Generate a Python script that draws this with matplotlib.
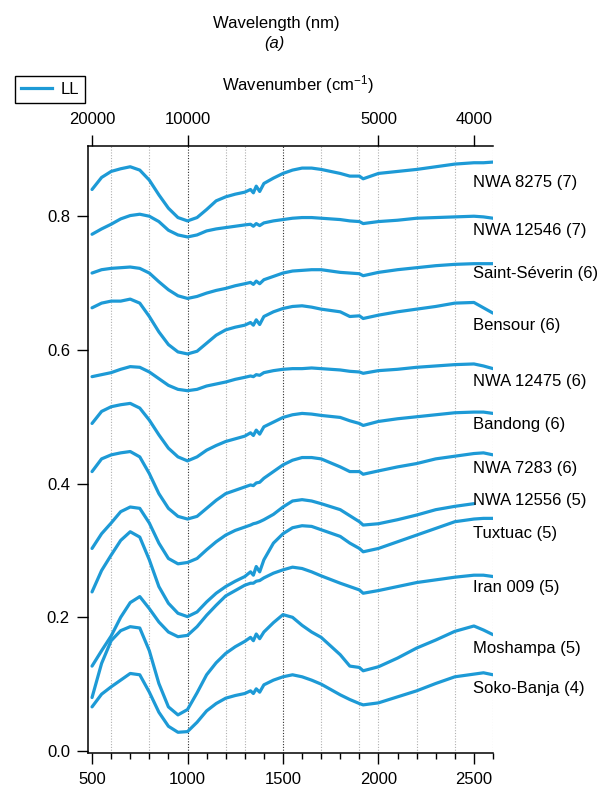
# Reflectance spectra of LL chondrites, stacked, with wavenumber axis on top

import numpy as np
import matplotlib.pyplot as plt
from matplotlib.lines import Line2D

plt.rcParams['font.family'] = ['Liberation Sans', 'DejaVu Sans']
plt.rcParams['mathtext.fontset'] = 'custom'
plt.rcParams['mathtext.rm'] = 'Liberation Sans'
plt.rcParams['mathtext.it'] = 'Liberation Sans:italic'

# wavelength grid (nm) shared by all spectra
wl = [500, 550, 600, 650, 700, 750, 800, 850, 900, 950, 1000, 1050, 1100, 1150,
      1200, 1250, 1300, 1330, 1345, 1360, 1378, 1400, 1450, 1500, 1550, 1600,
      1650, 1700, 1800, 1850, 1900, 1920, 2000, 2100, 2200, 2300, 2400, 2500,
      2550, 2600]

nwa_8275 = [0.840, 0.858, 0.867, 0.871, 0.874, 0.869, 0.854, 0.832, 0.812, 0.798,
            0.793, 0.798, 0.810, 0.823, 0.829, 0.833, 0.836, 0.840, 0.835, 0.845,
            0.837, 0.849, 0.857, 0.864, 0.869, 0.872, 0.872, 0.870, 0.864, 0.860,
            0.860, 0.856, 0.864, 0.867, 0.870, 0.874, 0.878, 0.880, 0.880, 0.881]
nwa_12546 = [0.773, 0.781, 0.788, 0.796, 0.801, 0.803, 0.800, 0.792, 0.779, 0.772,
             0.769, 0.772, 0.778, 0.781, 0.783, 0.785, 0.787, 0.788, 0.785, 0.789,
             0.786, 0.790, 0.793, 0.795, 0.797, 0.798, 0.798, 0.797, 0.795, 0.793,
             0.792, 0.789, 0.792, 0.794, 0.797, 0.798, 0.799, 0.800, 0.799, 0.797]
saint_severin = [0.715, 0.720, 0.722, 0.723, 0.724, 0.722, 0.715, 0.702, 0.690, 0.681,
                 0.677, 0.680, 0.685, 0.689, 0.692, 0.696, 0.699, 0.701, 0.698, 0.703,
                 0.699, 0.705, 0.710, 0.715, 0.718, 0.719, 0.720, 0.720, 0.716, 0.715,
                 0.714, 0.711, 0.716, 0.720, 0.723, 0.726, 0.728, 0.729, 0.729, 0.729]
bensour = [0.663, 0.670, 0.673, 0.673, 0.676, 0.670, 0.650, 0.627, 0.608, 0.597,
           0.594, 0.598, 0.610, 0.622, 0.630, 0.634, 0.637, 0.641, 0.637, 0.645,
           0.638, 0.650, 0.657, 0.662, 0.665, 0.666, 0.664, 0.661, 0.657, 0.650,
           0.651, 0.647, 0.652, 0.657, 0.661, 0.665, 0.670, 0.671, 0.663, 0.655]
nwa_12475 = [0.560, 0.563, 0.566, 0.571, 0.575, 0.574, 0.567, 0.557, 0.547, 0.541,
             0.539, 0.541, 0.546, 0.549, 0.552, 0.556, 0.559, 0.561, 0.560, 0.563,
             0.562, 0.566, 0.569, 0.571, 0.572, 0.572, 0.573, 0.572, 0.570, 0.568,
             0.567, 0.565, 0.569, 0.571, 0.574, 0.576, 0.578, 0.579, 0.576, 0.572]
bandong = [0.490, 0.508, 0.515, 0.518, 0.520, 0.513, 0.495, 0.473, 0.453, 0.440,
           0.434, 0.440, 0.450, 0.457, 0.463, 0.467, 0.471, 0.476, 0.472, 0.480,
           0.474, 0.485, 0.492, 0.499, 0.503, 0.505, 0.504, 0.502, 0.499, 0.494,
           0.490, 0.487, 0.493, 0.497, 0.500, 0.503, 0.506, 0.507, 0.507, 0.505]
nwa_7283 = [0.418, 0.437, 0.443, 0.446, 0.448, 0.440, 0.415, 0.385, 0.363, 0.351,
            0.347, 0.351, 0.363, 0.375, 0.385, 0.390, 0.395, 0.398, 0.397, 0.401,
            0.402, 0.408, 0.418, 0.428, 0.435, 0.439, 0.439, 0.437, 0.425, 0.418,
            0.418, 0.414, 0.419, 0.425, 0.430, 0.437, 0.441, 0.445, 0.446, 0.443]
nwa_12556 = [0.303, 0.325, 0.341, 0.358, 0.365, 0.363, 0.341, 0.311, 0.288, 0.280,
             0.282, 0.288, 0.301, 0.313, 0.323, 0.330, 0.335, 0.338, 0.340, 0.341,
             0.343, 0.346, 0.354, 0.365, 0.374, 0.376, 0.374, 0.370, 0.361, 0.352,
             0.343, 0.338, 0.340, 0.346, 0.353, 0.361, 0.366, 0.370, np.nan, np.nan]
tuxtuac = [0.238, 0.270, 0.293, 0.315, 0.328, 0.320, 0.286, 0.246, 0.221, 0.206,
           0.201, 0.208, 0.223, 0.236, 0.246, 0.254, 0.261, 0.268, 0.263, 0.276,
           0.268, 0.286, 0.311, 0.325, 0.334, 0.337, 0.336, 0.331, 0.321, 0.311,
           0.303, 0.298, 0.303, 0.313, 0.323, 0.333, 0.343, 0.347, 0.348, 0.348]
iran_009 = [0.127, 0.150, 0.172, 0.200, 0.222, 0.231, 0.213, 0.193, 0.178, 0.171,
            0.173, 0.186, 0.203, 0.218, 0.232, 0.240, 0.248, 0.251, 0.251, 0.254,
            0.255, 0.259, 0.266, 0.271, 0.275, 0.273, 0.268, 0.262, 0.251, 0.246,
            0.241, 0.236, 0.240, 0.246, 0.252, 0.256, 0.260, 0.263, 0.263, 0.261]
moshampa = [0.080, 0.131, 0.165, 0.180, 0.186, 0.184, 0.150, 0.101, 0.066, 0.054,
            0.062, 0.087, 0.114, 0.132, 0.146, 0.156, 0.164, 0.170, 0.165, 0.175,
            0.168, 0.178, 0.192, 0.204, 0.200, 0.188, 0.178, 0.170, 0.144, 0.127,
            0.125, 0.120, 0.126, 0.139, 0.154, 0.166, 0.179, 0.187, 0.181, 0.174]
soko_banja = [0.066, 0.085, 0.096, 0.106, 0.116, 0.114, 0.088, 0.058, 0.037, 0.028,
              0.029, 0.043, 0.060, 0.071, 0.079, 0.083, 0.086, 0.090, 0.086, 0.093,
              0.088, 0.099, 0.106, 0.111, 0.114, 0.111, 0.106, 0.100, 0.084, 0.077,
              0.071, 0.069, 0.072, 0.081, 0.090, 0.101, 0.111, 0.115, 0.117, 0.114]

names = ['NWA 8275 (7)', 'NWA 12546 (7)', 'Saint-Séverin (6)', 'Bensour (6)',
         'NWA 12475 (6)', 'Bandong (6)', 'NWA 7283 (6)', 'NWA 12556 (5)',
         'Tuxtuac (5)', 'Iran 009 (5)', 'Moshampa (5)', 'Soko-Banja (4)']
spectra = [nwa_8275, nwa_12546, saint_severin, bensour, nwa_12475, bandong,
           nwa_7283, nwa_12556, tuxtuac, iran_009, moshampa, soko_banja]

# where the sample names sit (reflectance units)
label_y = [0.851, 0.778, 0.714, 0.636, 0.553, 0.488, 0.422, 0.374, 0.325,
           0.244, 0.154, 0.094]

grid_dark = [1000, 1500]
grid_light = [600, 800, 1200, 1300, 1700, 1900, 2000, 2200, 2400, 2600]
wn_ticks = [20000, 10000, 5000, 4000]

line_color = '#1d9ad6'

fig = plt.figure(figsize=(6.05, 7.98), dpi=100)
ax = fig.add_axes([0.1455, 0.0558, 0.6694, 0.7612])

for g in grid_light:
    ax.axvline(g, color='#b0b0b0', ls=(0, (1, 1.5)), lw=0.8, zorder=0)
for g in grid_dark:
    ax.axvline(g, color='#303030', ls=(0, (1, 1.5)), lw=0.8, zorder=0)

for vals in spectra:
    ax.plot(wl, vals, color=line_color, lw=2.3, solid_joinstyle='round',
            solid_capstyle='round')

for name, y in zip(names, label_y):
    ax.text(2497, y, name, fontsize=12, ha='left', va='center', clip_on=False)

ax.set_xlim(479, 2600)
ax.set_ylim(-0.0037, 0.905)
ax.set_xticks([500, 1000, 1500, 2000, 2500])
ax.set_xticks(np.arange(600, 2601, 100), minor=True)
ax.set_yticks([0.0, 0.2, 0.4, 0.6, 0.8])
ax.set_yticklabels(['0.0', '0.2', '0.4', '0.6', '0.8'])
ax.tick_params(which='major', direction='out', length=8, width=1, pad=5, labelsize=12)
ax.tick_params(which='minor', direction='out', length=4.5, width=1)
ax.tick_params(axis='y', which='minor', left=False)
ax.spines['right'].set_visible(False)
ax.spines['top'].set_visible(False)
for s in ['left', 'bottom']:
    ax.spines[s].set_linewidth(1.1)

# wavenumber axis on top
ax2 = ax.twiny()
ax2.set_xlim(ax.get_xlim())
ax2.set_xticks(1e7 / np.array(wn_ticks))
ax2.set_xticklabels([str(w) for w in wn_ticks])
ax2.tick_params(direction='out', length=8, width=1, pad=6, labelsize=12)
for s in ['left', 'right', 'bottom']:
    ax2.spines[s].set_visible(False)
ax2.spines['top'].set_linewidth(1.1)

fig.text(0.4573, 0.9706, 'Wavelength (nm)', ha='center', va='center', fontsize=12)
fig.text(0.4529, 0.9461, '(a)', ha='center', va='center', fontsize=12, style='italic')
fig.text(0.4926, 0.8935, r'Wavenumber (cm$^{-1}$)', ha='center', va='center', fontsize=12)

leg = fig.legend([Line2D([0], [0], color=line_color, lw=2.3)], ['LL'],
                 loc='upper left', bbox_to_anchor=(15 / 605, 1 - 76 / 798),
                 frameon=True, fancybox=False, edgecolor='black', framealpha=1,
                 borderaxespad=0, handlelength=1.9, fontsize=12, borderpad=0.35,
                 handletextpad=0.5)
leg.get_frame().set_linewidth(1.0)

fig.savefig('out.png', dpi=100)
